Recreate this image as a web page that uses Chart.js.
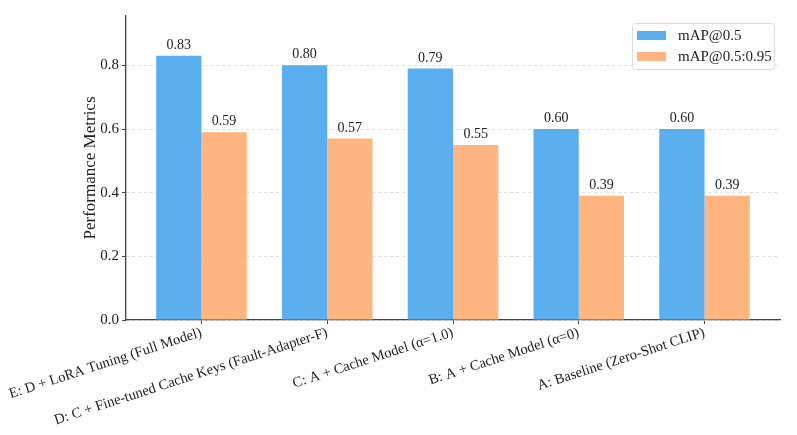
<!DOCTYPE html>
<html>
<head>
<meta charset="utf-8">
<script src="https://cdn.jsdelivr.net/npm/chart.js@4.4.1/dist/chart.umd.min.js"></script>
<style>
  html, body { margin: 0; padding: 0; background: #fff; }
  #wrap { width: 797px; height: 435px; }
</style>
</head>
<body>
<div id="wrap"><canvas id="barChart" width="797" height="435"></canvas></div>
<script>
// 카테고리 (x축)
const categories = [
  'E: D + LoRA Tuning (Full Model)',
  'D: C + Fine-tuned Cache Keys (Fault-Adapter-F)',
  'C: A + Cache Model (\u03b1=1.0)',
  'B: A + Cache Model (\u03b1=0)',
  'A: Baseline (Zero-Shot CLIP)'
];
// 시리즈 값
const map50 = [0.83, 0.80, 0.79, 0.60, 0.60];
const map5095 = [0.59, 0.57, 0.55, 0.39, 0.39];
const seriesNames = ['mAP@0.5', 'mAP@0.5:0.95'];
// y축 눈금
const yTicks = [0.0, 0.2, 0.4, 0.6, 0.8];

const FONT = "'Liberation Serif', 'Times New Roman', serif";
const BLUE = '#5aaeee';
const ORANGE = '#ffb580';

// 값 라벨 그리기
const valueLabels = {
  id: 'valueLabels',
  afterDatasetsDraw(chart) {
    const ctx = chart.ctx;
    ctx.save();
    ctx.font = '14px ' + FONT;
    ctx.fillStyle = '#222';
    ctx.textAlign = 'center';
    ctx.textBaseline = 'alphabetic';
    chart.data.datasets.forEach((ds, di) => {
      const meta = chart.getDatasetMeta(di);
      meta.data.forEach((bar, i) => {
        ctx.fillText(ds.data[i].y.toFixed(2), bar.x, bar.y - 7);
      });
    });
    ctx.restore();
  }
};

// 테두리 있는 범례
const boxLegend = {
  id: 'boxLegend',
  afterDraw(chart) {
    const ctx = chart.ctx;
    const area = chart.chartArea;
    const w = 142, h = 46;
    const x = area.right - 6 - w, y = area.top + 7;
    ctx.save();
    ctx.fillStyle = 'rgba(255,255,255,0.85)';
    ctx.strokeStyle = '#dcdcdc';
    ctx.lineWidth = 1;
    ctx.beginPath();
    ctx.roundRect(x + 0.5, y + 0.5, w, h, 3);
    ctx.fill();
    ctx.stroke();
    ctx.font = '15px ' + FONT;
    ctx.textBaseline = 'middle';
    ctx.textAlign = 'left';
    chart.data.datasets.forEach((ds, di) => {
      const cy = y + 12 + di * 21;
      ctx.fillStyle = ds.backgroundColor;
      ctx.fillRect(x + 5, cy - 4, 29, 9);
      ctx.fillStyle = '#222';
      ctx.fillText(ds.label, x + 46, cy + 1);
    });
    ctx.restore();
  }
};

const ctx = document.getElementById('barChart').getContext('2d');
new Chart(ctx, {
  type: 'bar',
  data: {
    datasets: [
      { label: seriesNames[0], data: map50.map((v, i) => ({ x: i, y: v })), backgroundColor: BLUE },
      { label: seriesNames[1], data: map5095.map((v, i) => ({ x: i, y: v })), backgroundColor: ORANGE }
    ]
  },
  options: {
    responsive: false,
    animation: false,
    categoryPercentage: 0.72,
    barPercentage: 1.0,
    layout: { padding: { top: 16, right: 17, left: 80, bottom: 0 } },
    plugins: { legend: { display: false }, tooltip: { enabled: false } },
    scales: {
      x: {
        type: 'linear',
        offset: false,
        min: -0.6,
        max: 4.6,
        afterBuildTicks(scale) {
          scale.ticks = categories.map((c, i) => ({ value: i }));
        },
        afterFit(scale) {
          scale.height = 115;
          scale.paddingLeft = 0;
          scale.paddingRight = 0;
        },
        ticks: {
          autoSkip: false,
          minRotation: 18,
          maxRotation: 18,
          padding: 0,
          color: '#222',
          font: { family: FONT, size: 14.5 },
          callback: (v) => categories[v]
        },
        grid: { offset: false, color: 'rgba(0,0,0,0)', tickColor: '#444', tickLength: 4, drawOnChartArea: false },
        border: { color: '#444', width: 1.3 }
      },
      y: {
        min: 0,
        max: 0.955,
        afterBuildTicks(scale) {
          scale.ticks = yTicks.map(v => ({ value: v }));
        },
        afterFit(scale) { scale.width = 46; },
        ticks: {
          padding: 3,
          color: '#222',
          font: { family: FONT, size: 15 },
          callback: (v) => v.toFixed(1)
        },
        title: {
          display: true,
          text: 'Performance Metrics',
          color: '#222',
          padding: 0,
          font: { family: FONT, size: 17 }
        },
        grid: { color: '#dddddd', tickColor: '#444', tickLength: 4, tickBorderDash: [] },
        border: { color: '#444', width: 1.3, dash: [3, 3] }
      }
    }
  },
  plugins: [valueLabels, boxLegend]
});
</script>
</body>
</html>
